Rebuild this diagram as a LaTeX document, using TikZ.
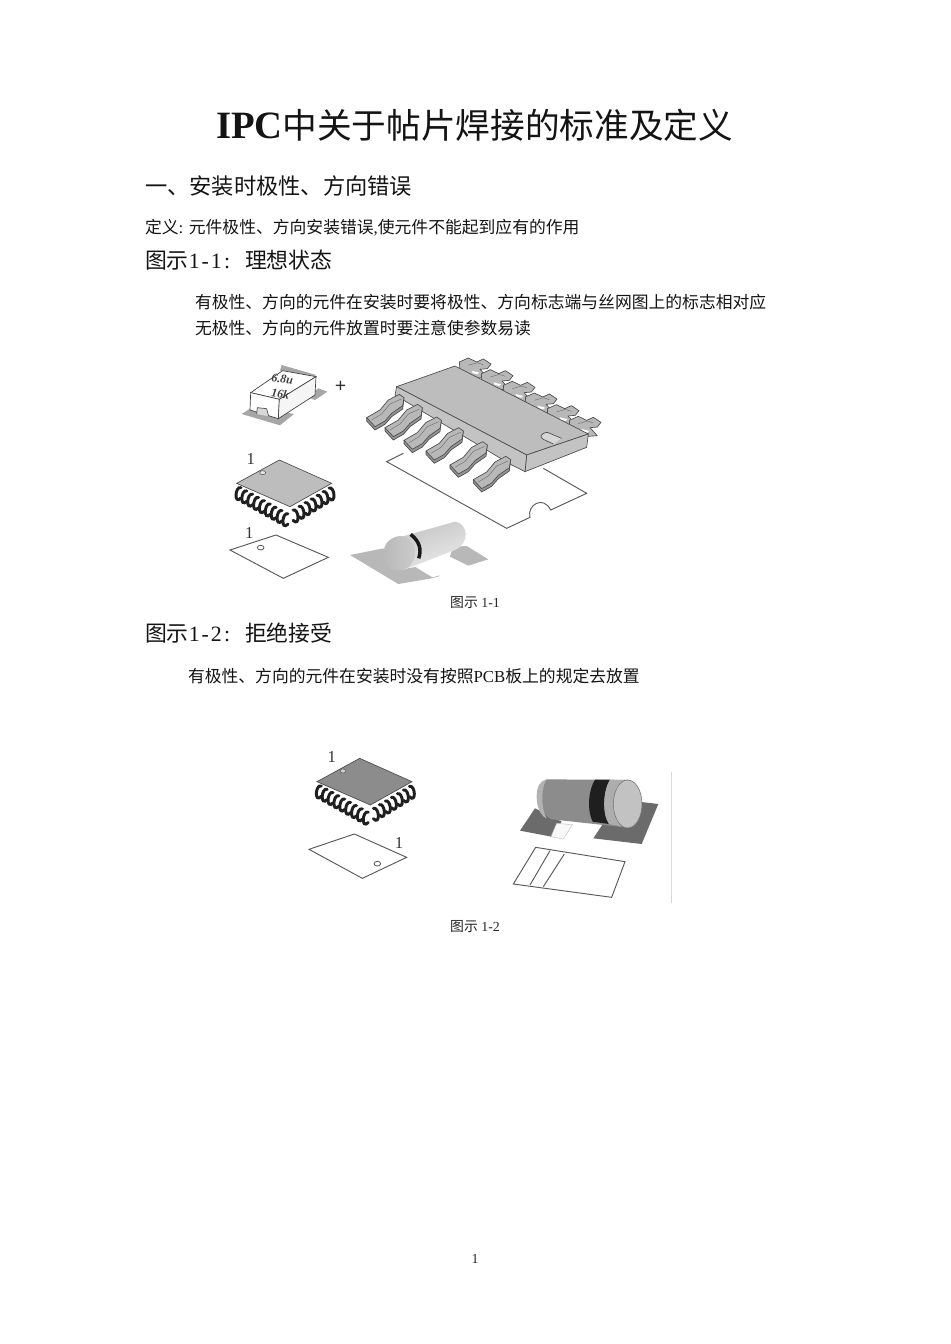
\documentclass[tikz,border=0pt]{standalone}
\usepackage{fontspec}
\setmainfont{Noto Sans CJK SC}
\newfontfamily\lat{Liberation Serif}
\usetikzlibrary{calc}
\definecolor{padgray}{gray}{0.72}
\definecolor{chipgray}{gray}{0.74}
\definecolor{chipdark}{gray}{0.55}
\definecolor{linegray}{gray}{0.35}
\newcommand{\pxf}[1]{\fontsize{#1}{#1}\selectfont}
\newcommand{\hw}[1]{\makebox[8.25pt][c]{\lat #1}}
\newcommand{\qfpchip}[1]{%
  \foreach \i in {0,...,8}{
    \draw[black!88,line width=2.2pt,line cap=round]
      ($(63,443)+\i*(17.6,9.8)$) .. controls +(-18,-6) and +(-22,22) .. +(0,31);
  }
  \foreach \i in {0,...,6}{
    \draw[black!88,line width=2.2pt,line cap=round]
      ($(219,510)+\i*(18,-11)$) .. controls +(18,-6) and +(22,22) .. +(0,31);
  }
  \fill[#1,draw=black!70,line width=0.5pt] (50,430)--(178,360)--(335,430)--(210,500)--cycle;
  \draw[black!60,line width=0.5pt,fill=#1!40] (128,398) ellipse (9 and 6);
}
\tikzset{
  txt/.style={anchor=west,inner sep=0pt,outer sep=0pt,text=black!92},
  captxt/.style={anchor=center,inner sep=0pt,text=black!85},
  foot/.style={draw=linegray,line width=0.7pt,fill=white},
  pad/.style={fill=padgray,draw=padgray!80!black,line width=0.3pt},
  lead/.style={fill=padgray,draw=black!70,line width=0.5pt,line join=round},
  one/.style={inner sep=0pt,font={\lat\pxf{12.5pt}},text=black!80},
}
\begin{document}
\begin{tikzpicture}[x=0.75pt,y=-0.75pt]
\useasboundingbox (0,0) rectangle (950,1344);
\fill[white] (0,0) rectangle (950,1344);

\node[txt] (title) at (216,125) {\pxf{26pt}{\lat\bfseries\pxf{29pt}IPC}中关于帖片焊接的标准及定义};
\node[txt] (sec) at (145,186) {\pxf{16.7pt}一、安装时极性、方向错误};
\node[txt] (def) at (145,228) {\pxf{12.6pt}定义{\lat : }元件极性、方向安装错误{\lat ,}使元件不能起到应有的作用};
\node[txt] (fig1) at (145,260) {\pxf{16.4pt}图示\hw{1}\hw{-}\hw{1}\hw{:}\hw{ }\hspace{1pt}理想状态};
\node[txt] (l1) at (195,302) {\pxf{12.6pt}有极性、方向的元件在安装时要将极性、方向标志端与丝网图上的标志相对应};
\node[txt] (l2) at (195,328) {\pxf{12.6pt}无极性、方向的元件放置时要注意使参数易读};
\node[captxt] (cap1) at (475,603) {\pxf{10.4pt}图示{\lat\ 1-1}};
\node[txt] (fig2) at (145,633) {\pxf{16.4pt}图示\hw{1}\hw{-}\hw{2}\hw{:}\hw{ }\hspace{1pt}拒绝接受};
\node[txt] (l3) at (188,676) {\pxf{12.6pt}有极性、方向的元件在安装时没有按照{\lat PCB}板上的规定去放置};
\node[captxt] (cap2) at (475,927) {\pxf{10.4pt}图示{\lat\ 1-2}};
\node[captxt] (page) at (475,1259) {\lat\pxf{10.4pt}1};

% ---- figure 1-1, left column
\begin{scope}[shift={(220,340)},x=0.25pt,y=-0.25pt]
  \fill[pad,fill=black!35,draw=none] (65,222)--(180,256)--(222,222)--(100,200)--cycle;
  \fill[pad,fill=black!35,draw=none] (262,172)--(295,145)--(322,155)--(285,180)--cycle;
  \fill[pad,fill=black!35,draw=none] (185,75)--(288,105)--(270,118)--(180,92)--cycle;
  \draw[black!75,fill=white,line width=0.5pt] (92,158)--(188,92)--(288,110)--(178,178)--cycle;
  \draw[black!75,fill=white,line width=0.5pt] (92,158)--(178,178)--(175,236)--(90,210)--cycle;
  \draw[black!75,fill=black!4,line width=0.5pt] (178,178)--(288,110)--(285,165)--(175,236)--cycle;
  \draw[black!70,fill=black!15,line width=0.5pt] (110,222)--(112,203)--(140,206)--(146,229);
  \node[inner sep=0pt,rotate=-8,font={\lat\itshape\bfseries\pxf{9pt}},text=black!75] (capa) at (187,118) {6.8u};
  \node[inner sep=0pt,rotate=-8,font={\lat\itshape\bfseries\pxf{9pt}},text=black!75] (capb) at (181,161) {16k};
  \node[inner sep=0pt,font={\lat\bfseries\pxf{15pt}},text=black!80] (plus) at (362,140) {+};
  \node[one] (n1) at (92,358) {1};
  \qfpchip{chipgray}
  \draw[foot] (30,630)--(168,585)--(325,652)--(190,715)--cycle;
  \draw[linegray,line width=0.6pt] (122,623) ellipse (10 and 7);
  \node[one] (n2) at (88,578) {1};
\end{scope}

% ---- figure 1-1, SOIC and cylinder
\begin{scope}[shift={(340,340)},x=0.25pt,y=-0.25pt]
  % footprint
  \draw[foot] (190,340)--(140,365)--(500,565)--(570,532)
     .. controls (560,495) and (610,465) .. (632,510)
     --(740,460)--(610,385);
  % back leads
  \foreach \i in {0,...,5}{
    \begin{scope}[shift={($\i*(66,35)$)}]
      \draw[lead] (360,92)--(358,66)--(385,54)--(410,66)--(430,57)--(453,72)--(442,86)--(420,88)--(442,112)--(400,115)--cycle;
      \fill[white] (395,92)--(418,98)--(412,103)--(398,99)--cycle;
      \draw[black!55,line width=0.35pt] (385,76)--(412,68)--(430,74);
    \end{scope}
  }
  % chip
  \fill[chipgray,draw=black!70,line width=0.5pt] (170,140)--(345,78)--(745,282)--(560,345)--cycle;
  \fill[chipgray!90!white,draw=black!70,line width=0.5pt] (560,345)--(745,282)--(740,322)--(555,395)--cycle;
  \fill[chipgray!90!white,draw=black!70,line width=0.5pt] (170,140)--(560,345)--(555,395)--(510,372)--(165,165)--cycle;
  \draw[black!70,fill=chipgray!60,line width=0.5pt] (665,295)--(622,277) .. controls (600,280) and (598,292) .. (610,298)--(640,312);
  % front leads
  \foreach \dx/\dy in {0/0,55/30,112/68,178/100,250/142,320/186}{
    \begin{scope}[shift={(\dx,\dy)}]
      \draw[black!70,fill=black!42,line width=0.5pt,line join=round] (80,233)--(80,243)--(105,270)--(135,253)--(155,230)--(188,207)--(192,173)--(155,210)--(105,250)--cycle;
      \draw[lead] (80,233)--(120,210)--(145,180)--(178,163)--(192,173)--(188,197)--(155,220)--(135,243)--(105,260)--cycle;
      \draw[black!55,line width=0.35pt] (95,240)--(125,222)--(150,192)--(184,177);
    \end{scope}
  }
  % cylinder pads
  \fill[pad,draw=none] (30,645)--(130,625)--(175,690)--(232,680)--(300,708)--(275,715)--(175,732)--cycle;
  \fill[pad,draw=none] (340,620)--(380,618)--(445,658)--(385,677)--(330,650)--cycle;
  \fill[white] (228,682)--(250,678)--(300,705)--(278,712)--cycle;
  % cylinder
  \shade[left color=black!24,right color=black!8,shading angle=20]
     (150,600)--(345,545) .. controls (385,550) and (390,610) .. (345,630)
     --(190,690) .. controls (130,690) and (115,620) .. (150,600)--cycle;
  \shade[left color=black!28,right color=black!20,rotate around={-15:(178,640)}] (178,640) ellipse (47 and 52);
  \draw[black!90,line width=2.6pt] (212,583) .. controls (240,605) and (245,630) .. (236,655);
\end{scope}

% ---- figure 1-2
\begin{scope}[shift={(295,740)},x=0.25pt,y=-0.25pt]
  \begin{scope}[shift={(16,-305)}]
  \qfpchip{chipdark}
  \end{scope}
  \draw[foot,draw=black!65] (42,328)--(178,282)--(335,352)--(202,415)--cycle;
  \draw[linegray,line width=0.6pt] (247,371) ellipse (10 and 7);
  \node[one] (n3) at (110,50) {1};
  \node[one] (n4) at (312,308) {1};
  % pads
  \fill[black!58] (675,272)--(720,205)--(800,245)--(770,290)--cycle;
  \fill[black!3,draw=black!25,line width=0.3pt] (785,250)--(832,254)--(805,297)--(768,290)--cycle;
  \fill[black!58] (895,295)--(925,250)--(1030,185)--(1090,192)--(1040,312)--cycle;
  % body
  \fill[black!45] (755,118)--(1005,120) .. controls (1040,130) and (1045,230) .. (990,262)
     --(770,238) .. controls (720,215) and (715,135) .. (755,118)--cycle;
  \fill[black!30] (725,170) .. controls (725,140) and (735,122) .. (755,118)
     .. controls (740,135) and (735,200) .. (755,236) .. controls (735,225) and (725,200) .. (725,170)--cycle;
  \fill[black!88] (900,119)--(945,119) .. controls (925,150) and (920,220) .. (942,252)--(893,245)
     .. controls (875,210) and (880,150) .. (900,119)--cycle;
  \fill[black!32] (945,119)--(1000,120)--(985,260)--(942,252) .. controls (920,220) and (925,150) .. (945,119)--cycle;
  \fill[black!24,draw=black!55,line width=0.4pt] (998,192) ellipse (43 and 72);
  % footprint
  \draw[foot,draw=black!65] (722,322)--(990,365)--(950,472)--(655,432)--cycle;
  \draw[black!65,line width=0.7pt] (765,332)--(705,435);
  \draw[black!65,line width=0.7pt] (808,342)--(745,440);
  \draw[black!15,line width=0.5pt] (1128,95)--(1128,490);
\end{scope}
\end{tikzpicture}
\end{document}
